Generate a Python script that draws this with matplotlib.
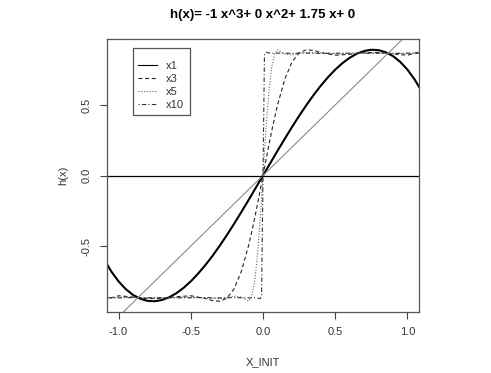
import matplotlib
matplotlib.use("Agg")
import matplotlib.pyplot as plt
from matplotlib.lines import Line2D

# x1 = h(x)
X_SINGLE = [-1.10, -1.05, -1.00, -0.95, -0.90, -0.85, -0.80, -0.75, -0.70, -0.65,
            -0.60, -0.55, -0.50, -0.45, -0.40, -0.35, -0.30, -0.25, -0.20, -0.15,
            -0.10, -0.05, 0.00, 0.05, 0.10, 0.15, 0.20, 0.25, 0.30, 0.35,
            0.40, 0.45, 0.50, 0.55, 0.60, 0.65, 0.70, 0.75, 0.80, 0.85,
            0.90, 0.95, 1.00, 1.05, 1.10]
Y_X1 = [-0.594, -0.680, -0.750, -0.805, -0.846, -0.873, -0.888, -0.891, -0.882, -0.863,
        -0.834, -0.796, -0.750, -0.696, -0.636, -0.570, -0.498, -0.422, -0.342, -0.259,
        -0.174, -0.087, 0.000, 0.087, 0.174, 0.259, 0.342, 0.422, 0.498, 0.570,
        0.636, 0.696, 0.750, 0.796, 0.834, 0.863, 0.882, 0.891, 0.888, 0.873,
        0.846, 0.805, 0.750, 0.680, 0.594]

# iterated curves x3, x5, x10
X_ITER = [-1.10, -1.00, -0.90, -0.80, -0.70, -0.60, -0.50, -0.40, -0.35, -0.30,
          -0.25, -0.20, -0.15, -0.10, -0.08, -0.06, -0.04, -0.02, -0.01, 0.00,
          0.01, 0.02, 0.04, 0.06, 0.08, 0.10, 0.15, 0.20, 0.25, 0.30,
          0.35, 0.40, 0.50, 0.60, 0.70, 0.80, 0.90, 1.00, 1.10]
Y_X3 = [-0.881, -0.852, -0.861, -0.872, -0.870, -0.859, -0.852, -0.871, -0.886, -0.891,
        -0.869, -0.803, -0.680, -0.497, -0.408, -0.313, -0.212, -0.107, -0.054, 0.000,
        0.054, 0.107, 0.212, 0.313, 0.408, 0.497, 0.680, 0.803, 0.869, 0.891,
        0.886, 0.871, 0.852, 0.859, 0.870, 0.872, 0.861, 0.852, 0.881]
Y_X5 = [-0.870, -0.863, -0.865, -0.867, -0.867, -0.864, -0.863, -0.867, -0.871, -0.872,
        -0.867, -0.854, -0.861, -0.890, -0.861, -0.766, -0.585, -0.319, -0.163, 0.000,
        0.163, 0.319, 0.585, 0.766, 0.861, 0.890, 0.861, 0.854, 0.867, 0.872,
        0.871, 0.867, 0.863, 0.864, 0.867, 0.867, 0.865, 0.863, 0.870]
Y_X10 = [-0.866, -0.867, -0.865, -0.866, -0.866, -0.867, -0.866, -0.865, -0.866, -0.867,
         -0.866, -0.865, -0.866, -0.867, -0.866, -0.866, -0.868, -0.873, -0.855, 0.000,
         0.855, 0.873, 0.868, 0.866, 0.866, 0.867, 0.866, 0.865, 0.866, 0.867,
         0.866, 0.865, 0.866, 0.867, 0.866, 0.866, 0.865, 0.867, 0.866]

DIAG = [-1.2, 1.2]
LABELS = ["x1", "x3", "x5", "x10"]
XTICKS = [-1.0, -0.5, 0.0, 0.5, 1.0]
YTICKS = [-0.5, 0.0, 0.5]

plt.rcParams["font.family"] = ["Liberation Sans", "DejaVu Sans"]

fig = plt.figure(figsize=(4.91, 3.73), dpi=100)
ax = fig.add_axes([107 / 491, 1 - 312 / 373, 312 / 491, 273 / 373])

styles = [
    dict(color="black", lw=1.5, ls="-"),
    dict(color="#222222", lw=0.8, ls=(0, (3.5, 2.5))),
    dict(color="#666666", lw=0.8, ls=(0, (1, 1.5))),
    dict(color="#333333", lw=0.8, ls=(0, (1, 2, 4, 2))),
]
ax.plot(X_SINGLE, Y_X1, **styles[0])
ax.plot(X_ITER, Y_X3, **styles[1])
ax.plot(X_ITER, Y_X5, **styles[2])
ax.plot(X_ITER, Y_X10, **styles[3])
ax.plot(DIAG, DIAG, color="#8a8a8a", lw=0.8)
ax.axhline(0, color="black", lw=0.9)

ax.set_xlim(-1.08, 1.08)
ax.set_ylim(-0.967, 0.967)
ax.set_xticks(XTICKS)
ax.set_xticklabels([f"{v:.1f}" for v in XTICKS])
ax.set_yticks(YTICKS)
ax.set_yticklabels([f"{v:.1f}" for v in YTICKS], rotation=90, va="center")
ax.tick_params(direction="out", length=5, width=0.8, color="#444444",
               labelsize=8, labelcolor="#333333", pad=6)
for s in ax.spines.values():
    s.set_color("#555555")
    s.set_linewidth(0.9)

ax.set_xlabel("X_INIT", fontsize=8, color="#333333", labelpad=14)
ax.set_ylabel("h(x)", fontsize=8, color="#333333", labelpad=10)
ax.set_title("h(x)= -1 x^3+ 0 x^2+ 1.75 x+ 0", fontsize=9.5, fontweight="bold", pad=15)

# legend samples drawn with thin lines, like the original
handles = [Line2D([], [], **{**st, "lw": 0.8}) for st in styles]
leg = ax.legend(handles, LABELS, loc="upper left", bbox_to_anchor=(0.083, 0.967),
                fontsize=8, handlelength=1.7, handletextpad=0.8, labelspacing=0.25,
                borderpad=0.5, fancybox=False, framealpha=1, borderaxespad=0,
                title=" ", title_fontsize=4)
leg.get_frame().set_edgecolor("#555555")
leg.get_frame().set_linewidth(0.9)
for t in leg.get_texts():
    t.set_color("#333333")

fig.savefig("out.png", dpi=100)
